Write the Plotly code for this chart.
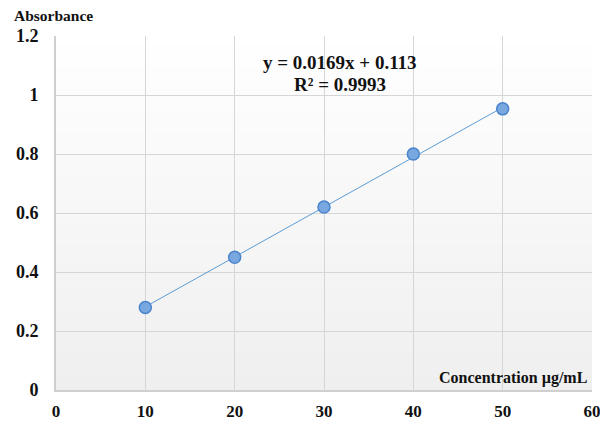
import plotly.graph_objects as go
import numpy as np
import zlib, struct, base64

conc = [10, 20, 30, 40, 50]
absorb = [0.28, 0.45, 0.62, 0.80, 0.953]
slope = 0.0169
intercept = 0.113
x_ticks = [0, 10, 20, 30, 40, 50, 60]
y_ticks = [0, 0.2, 0.4, 0.6, 0.8, 1.0, 1.2]
y_ticktext = ["0", "0.2", "0.4", "0.6", "0.8", "1", "1.2"]
xr = [0, 60]
yr = [0, 1.2]
eq_text = "y = 0.0169x + 0.113"
r2_text = "R² = 0.9993"

font_fam = "Liberation Serif"


def gradient_png(h=64, top=255, bottom=239):
    rows = b""
    for i in range(h):
        v = int(round(top + (bottom - top) * i / (h - 1)))
        rows += b"\x00" + bytes([v, v, v]) * 2
    def chunk(t, d):
        c = struct.pack(">I", len(d)) + t + d
        return c + struct.pack(">I", zlib.crc32(t + d) & 0xffffffff)
    png = b"\x89PNG\r\n\x1a\n" + chunk(b"IHDR", struct.pack(">IIBBBBB", 2, h, 8, 2, 0, 0, 0))
    png += chunk(b"IDAT", zlib.compress(rows)) + chunk(b"IEND", b"")
    return "data:image/png;base64," + base64.b64encode(png).decode()


fig = go.Figure()

# trendline
tx = np.array([conc[0], conc[-1]])
fig.add_trace(go.Scatter(x=tx, y=slope * tx + intercept, mode="lines",
                         line=dict(color="#5b9bd5", width=1), showlegend=False))
# data points
fig.add_trace(go.Scatter(x=conc, y=absorb, mode="markers", showlegend=False,
                         marker=dict(size=12, color="#79a7e0",
                                     line=dict(color="#4a84cc", width=1.5))))

fig.update_layout(
    width=600, height=423,
    margin=dict(l=56, r=8, t=36, b=33, autoexpand=False),
    paper_bgcolor="white", plot_bgcolor="rgba(0,0,0,0)",
    font=dict(family=font_fam, color="#111111"),
    images=[dict(source=gradient_png(), xref="paper", yref="paper", x=0, y=1,
                 sizex=1, sizey=1, sizing="stretch", layer="below",
                 xanchor="left", yanchor="top")],
    xaxis=dict(range=xr, tickvals=x_ticks, showgrid=True, gridcolor="#d6d6d6", gridwidth=1,
               zeroline=False, showline=True, linecolor="#cfcfcf", linewidth=2,
               ticks="", ticklabelstandoff=5, ticklabeloverflow="allow", automargin=False,
               tickfont=dict(size=17, family=font_fam, weight="bold")),
    yaxis=dict(range=yr, tickvals=y_ticks, ticktext=y_ticktext, showgrid=True,
               gridcolor="#d6d6d6", gridwidth=1, zeroline=False, showline=True,
               linecolor="#cfcfcf", linewidth=2, ticks="", ticklabelstandoff=12,
               automargin=False,
               tickfont=dict(size=18, family=font_fam, weight="bold")),
    annotations=[
        dict(text="<b>Absorbance</b>", xref="paper", yref="paper", x=0, y=1,
             xshift=-44, yshift=10, xanchor="left", yanchor="bottom", showarrow=False,
             font=dict(size=15.5, family=font_fam)),
        dict(text="<b>Concentration µg/mL</b>", xref="paper", yref="paper", x=1, y=0,
             xshift=-3, yshift=1, xanchor="right", yanchor="bottom", showarrow=False,
             font=dict(size=16, family=font_fam)),
        dict(text="<b>" + eq_text + "</b>", x=31.8, y=1.11,
             xref="x", yref="y", showarrow=False, align="center",
             font=dict(size=19, family=font_fam)),
        dict(text="<b>" + r2_text + "</b>", x=31.8, y=1.035,
             xref="x", yref="y", showarrow=False, align="center",
             font=dict(size=19, family=font_fam)),
    ],
)
fig.write_html("out.html")
